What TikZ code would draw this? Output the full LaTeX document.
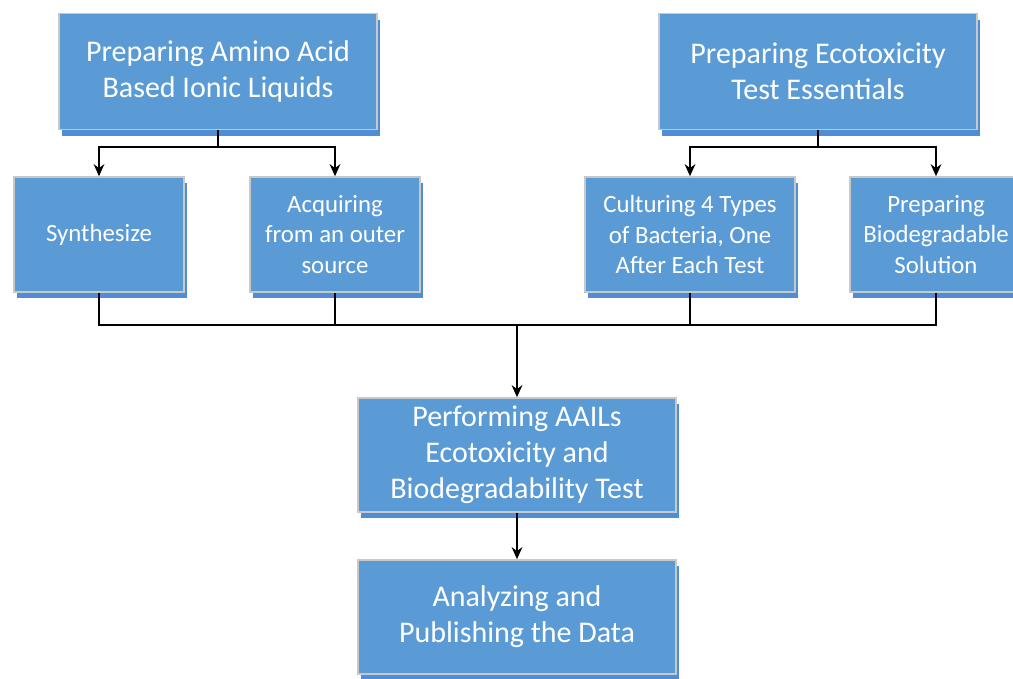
\documentclass[tikz,border=0pt]{standalone}
\usepackage{fontspec}
\setmainfont{Carlito}
\usetikzlibrary{shadows,arrows.meta}
\definecolor{boxblue}{HTML}{5B9BD5}
\definecolor{shadowblue}{HTML}{4F8ED6}
\definecolor{edgegray}{HTML}{C8C8C8}
\tikzset{
  px/.style={x=0.75pt,y=-0.75pt},
  box/.style={rectangle, fill=boxblue, draw=edgegray, line width=1.2pt, text=white, align=center,
    inner sep=0pt,
    general shadow={fill=shadowblue, shadow xshift=2.5*0.75pt, shadow yshift=-6*0.75pt}},
  bigbox/.style={box, minimum width=318*0.75pt, minimum height=116*0.75pt,
    font=\fontsize{22.5pt}{27pt}\selectfont},
  smallbox/.style={box, minimum height=115*0.75pt,
    font=\fontsize{18.6pt}{23.2pt}\selectfont},
  conn/.style={line width=1.5pt, black},
  arr/.style={conn, -{Stealth[length=9pt,width=8pt]}}
}
\begin{document}
\begin{tikzpicture}[px]
\useasboundingbox (0,0) rectangle (1013,678);
\node[bigbox] (b1) at (218,71.5) {Preparing Amino Acid\\Based Ionic Liquids};
\node[bigbox] (b2) at (818,71.5) {Preparing Ecotoxicity\\Test Essentials};
\node[smallbox, minimum width=170*0.75pt] (syn) at (99,234.5) {Synthesize};
\node[smallbox, minimum width=170*0.75pt] (acq) at (335,234.5) {Acquiring\\from an outer\\source};
\node[smallbox, minimum width=210*0.75pt] (cul) at (690,234.5) {Culturing 4 Types\\of Bacteria, One\\After Each Test};
\node[smallbox, minimum width=172*0.75pt] (bio) at (936,234.5) {Preparing\\Biodegradable\\Solution};
\node[bigbox, minimum height=114*0.75pt] (perf) at (517,455) {Performing AAILs\\Ecotoxicity and\\Biodegradability Test};
\node[bigbox, minimum height=114*0.75pt] (ana) at (517,617) {Analyzing and\\Publishing the Data};
\coordinate (s1) at (218,147);
\coordinate (s2) at (818,147);
\coordinate (m) at (517,325);
\draw[conn] (b1.south) -- (s1);
\draw[arr] (s1) -| (syn.north);
\draw[arr] (s1) -| (acq.north);
\draw[conn] (b2.south) -- (s2);
\draw[arr] (s2) -| (cul.north);
\draw[arr] (s2) -| (bio.north);
\draw[conn] (syn.south) |- (m);
\draw[conn] (acq.south) |- (m);
\draw[conn] (cul.south) |- (m);
\draw[conn] (bio.south) |- (m);
\draw[arr] (m) -- (perf.north);
\draw[arr] (perf.south) -- (ana.north);
\end{tikzpicture}
\end{document}
